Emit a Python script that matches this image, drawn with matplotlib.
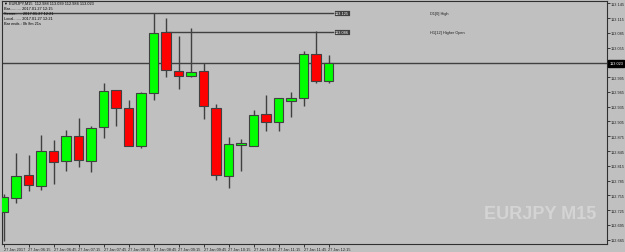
import matplotlib.pyplot as plt

# EURJPY M15 candles, 27 Jan 2017 05:45 .. 12:15
opens = [112.721, 112.750, 112.796, 112.773, 112.845, 112.824, 112.876, 112.825, 112.893,
         112.969, 112.932, 112.856, 112.962, 113.087, 113.008, 112.998, 113.008, 112.932,
         112.795, 112.858, 112.856, 112.920, 112.903, 112.947, 112.953, 113.043, 112.988]
highs = [112.758, 112.841, 112.837, 112.878, 112.867, 112.888, 112.912, 112.896, 112.983,
         112.969, 112.949, 112.964, 113.125, 113.115, 113.079, 113.094, 113.023, 112.940,
         112.874, 112.869, 112.928, 112.959, 112.953, 112.964, 113.049, 113.089, 113.039]
lows = [112.662, 112.739, 112.764, 112.766, 112.778, 112.804, 112.812, 112.803, 112.871,
        112.896, 112.856, 112.851, 112.949, 112.995, 112.970, 112.996, 112.909, 112.786,
        112.769, 112.804, 112.856, 112.886, 112.885, 112.915, 112.937, 112.983, 112.984]
closes = [112.752, 112.795, 112.777, 112.846, 112.823, 112.876, 112.827, 112.892, 112.966,
          112.932, 112.856, 112.962, 113.085, 113.010, 112.998, 113.006, 112.936, 112.796,
          112.860, 112.861, 112.919, 112.903, 112.953, 112.953, 113.042, 112.987, 113.023]

time_labels = ['27 Jan 2017', '27 Jan 06:15', '27 Jan 06:45', '27 Jan 07:15', '27 Jan 07:45',
               '27 Jan 08:15', '27 Jan 08:45', '27 Jan 09:15', '27 Jan 09:45', '27 Jan 10:15',
               '27 Jan 10:45', '27 Jan 11:15', '27 Jan 11:45', '27 Jan 12:15']
price_ticks = [113.145, 113.115, 113.085, 113.055, 112.995, 112.965, 112.935, 112.905,
               112.875, 112.845, 112.815, 112.785, 112.755, 112.725, 112.695, 112.665]

bid = 113.023
d1_high = 113.125
h1_open = 113.086

bg = '#c0c0c0'
dark = '#404040'
plt.rcParams['font.family'] = ['Liberation Sans', 'DejaVu Sans']
fs = 2.8

fig = plt.figure(figsize=(6.25, 2.53), dpi=100)
fig.patch.set_facecolor(bg)
ax = fig.add_axes([2 / 625, 8 / 253, 605 / 625, 243 / 253])
ax.set_facecolor(bg)

for i in range(len(opens)):
    o, h, l, c = opens[i], highs[i], lows[i], closes[i]
    col = '#00ff00' if c >= o else '#ff0000'
    ax.vlines(i, l, h, color=dark, lw=1, zorder=2)
    ax.bar(i, max(abs(c - o), 0.0004), bottom=min(o, c), width=0.76,
           color=col, edgecolor=dark, lw=0.8, zorder=3)

# horizontal levels
ax.axhline(bid, color=dark, lw=1, zorder=1)
ax.plot([-0.3, 26.4], [d1_high, d1_high], color=dark, lw=1, zorder=1)
ax.plot([13.1, 26.4], [h1_open, h1_open], color=dark, lw=1, zorder=1)
for lvl in (d1_high, h1_open):
    ax.text(26.5, lvl, f'{lvl:.3f}', fontsize=fs, color='white', va='center', ha='left',
            bbox=dict(boxstyle='square,pad=0.3', fc=dark, ec='#e0e0e0', lw=0.4), zorder=4)
ax.text(34.1, d1_high, 'D1[0] High', fontsize=fs, color='#202020', va='center')
ax.text(34.1, h1_open, 'H1[12] Higher Open', fontsize=fs, color='#202020', va='center')

ax.set_xlim(-0.12, 48.28)
ax.set_ylim(112.6562, 113.1496)

ax.set_xticks(range(0, 27, 2))
ax.set_xticklabels(time_labels, ha='left', fontsize=fs)
ax.yaxis.tick_right()
ax.set_yticks(price_ticks)
ax.set_yticklabels([f'{p:.3f}' for p in price_ticks], fontsize=fs)
ax.tick_params(axis='both', length=2, width=0.6, pad=1, colors='#202020')
ax.tick_params(axis='x', pad=0.5)
for s in ax.spines.values():
    s.set_color('#303030')
    s.set_linewidth(0.8)

# current price label on the price scale
ax.text(1.004, bid, f'{bid:.3f}', transform=ax.get_yaxis_transform(), fontsize=fs,
        color='white', va='center', ha='left',
        bbox=dict(boxstyle='square,pad=0.3', fc='black', ec='black'), clip_on=False)

# info block, top left
info = ['\u25bc EURJPY,M15  112.988 113.039 112.984 113.023',
        'Bar.......... 2017.01.27 12:15',
        'Server...... 2017.01.27 12:21',
        'Local....... 2017.01.27 12:21',
        'Bar ends.: 0h 8m 21s']
for k, line in enumerate(info):
    fig.text(4 / 625, 1 - (4 + 5 * k) / 253, line, fontsize=fs, color='black', va='center')

fig.text(540 / 625, 1 - 215 / 253, 'EURJPY M15', ha='center', va='center',
         color='#d4d4d4', fontweight='bold', fontsize=13,
         family=['Liberation Sans Narrow', 'Liberation Sans', 'DejaVu Sans'])

fig.savefig('out.png', dpi=100, facecolor=bg)
